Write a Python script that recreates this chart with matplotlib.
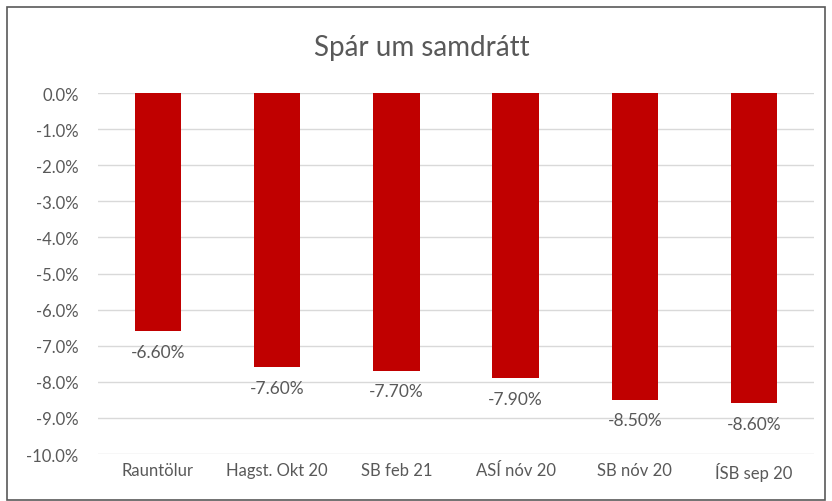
import numpy as np
import matplotlib.pyplot as plt
from matplotlib.patches import Rectangle

categories = ['Rauntölur', 'Hagst. Okt 20', 'SB feb 21', 'ASÍ nóv 20', 'SB nóv 20', 'ÍSB sep 20']
values = [-6.6, -7.6, -7.7, -7.9, -8.5, -8.6]
yticks = np.arange(0, -10.5, -1.0)

plt.rcParams['font.family'] = ['Lato', 'DejaVu Sans']
grey = '#595959'

fig = plt.figure(figsize=(8.32, 5.02), dpi=100)
ax = fig.add_axes([0.118, 0.0936, 0.860, 0.7191])

x = np.arange(len(categories))
ax.bar(x, values, width=0.39, color='#C00000', zorder=3)
for xi, v in zip(x, values):
    ax.annotate(f'{v:.2f}%', (xi, v), xytext=(0, -9), textcoords='offset points',
                ha='center', va='top', fontsize=12.5, color=grey)

ax.set_xlim(-0.5, len(categories) - 0.5)
ax.set_ylim(-10, 0)
ax.set_yticks(yticks)
ax.set_yticklabels([f'{t:.1f}%' for t in yticks])
ax.set_xticks(x)
ax.set_xticklabels(categories)
ax.tick_params(length=0, labelsize=12, colors=grey)
ax.tick_params(axis='x', pad=6)
ax.tick_params(axis='y', pad=14)
ax.grid(axis='y', color='#D9D9D9', lw=1, zorder=0)
for s in ax.spines.values():
    s.set_visible(False)

fig.text(0.507, 0.905, 'Spár um samdrátt', ha='center', va='center', fontsize=20, color=grey)

fig.patches.append(Rectangle((7/832, 0.002), 818/832, 1 - 9/502, transform=fig.transFigure,
                             fill=False, ec='#595959', lw=1.2))

fig.savefig('out.png', dpi=100)
